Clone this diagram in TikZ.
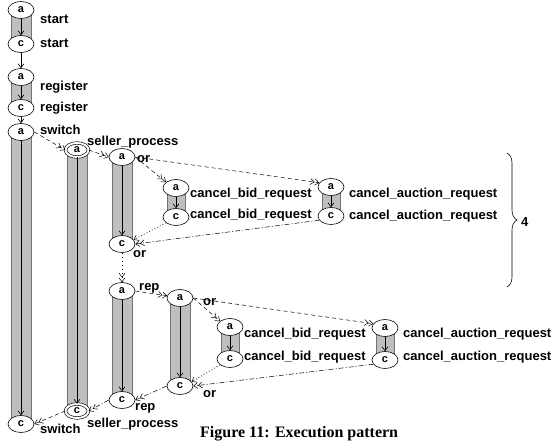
\documentclass[tikz,border=0pt]{standalone}
\usepackage{fontspec}
\newfontfamily\lblfont{Liberation Sans}
\newfontfamily\capfont{Liberation Serif}
\usetikzlibrary{calc,arrows.meta,shapes.geometric,decorations.pathreplacing,backgrounds}
\tikzset{
	>={Straight Barb[length=4pt,width=6pt]},
	act/.style={draw, ellipse, fill=white, line width=0.6, minimum width=26, minimum height=17, inner sep=0, font=\lblfont\bfseries\fontsize{11}{11}\selectfont},
	dbl/.style={act, double, double distance=2, minimum width=23, minimum height=14},
	lbl/.style={anchor=base west, inner sep=0, font=\lblfont\bfseries\fontsize{13}{13}\selectfont},
	bar/.style={fill=black!25, draw=black!55, line width=0.5},
	seqarr/.style={->, line width=0.6},
	fwdarr/.style={->>, line width=0.5, dash pattern=on 4pt off 3pt},
	backarr/.style={->>, line width=0.5, dash pattern=on 5pt off 2pt on 1pt off 2pt},
	dotarr/.style={->, line width=0.5, dash pattern=on 1pt off 2pt}
}
\def\actbar(#1)(#2)(#3){\draw[bar] ($(#2)+(-#1,0)$) rectangle ($(#3)+(#1,0)$);}

\begin{document}
\begin{tikzpicture}[x=1pt, y=-1pt]
	\useasboundingbox (0,0) rectangle (556,441);
	\clip (0,0) rectangle (556,441);
	%%%%% START %%%%%
	\node[act] (aS) at (21,10) {a};
	\node[act] (cS) at (21,44) {c};
	\node[act] (aR) at (21,77) {a};
	\node[act] (cR) at (21,108) {c};
	\node[act] (aW) at (21,132) {a};
	\node[act] (cW) at (21,424) {c};
	
	\node[dbl] (aP) at (77,150) {a};
	\node[dbl] (cP) at (77,411) {c};
	
	\node[act] (aO) at (122,157) {a};
	\node[act] (cO) at (122,244) {c};
	\node[act] (aRp) at (122,291) {a};
	\node[act] (cRp) at (122,400) {c};
	
	\node[act] (aO2) at (180,298) {a};
	\node[act] (cO2) at (180,386) {c};
	
	\node[act] (aB) at (176,188) {a};
	\node[act] (cB) at (176,217) {c};
	\node[act] (aA) at (331,187) {a};
	\node[act] (cA) at (331,216) {c};
	
	\node[act] (aB2) at (230,327) {a};
	\node[act] (cB2) at (230,359) {c};
	\node[act] (aA2) at (385,328) {a};
	\node[act] (cA2) at (385,360) {c};
	
	%%%%% BARS %%%%%
	\begin{scope}[on background layer]
		\actbar(10)(aS)(cS)
		\actbar(10)(aR)(cR)
		\actbar(10)(aW)(cW)
		\actbar(10)(aP)(cP)
		\actbar(10)(aO)(cO)
		\actbar(10)(aRp)(cRp)
		\actbar(10)(aO2)(cO2)
		\actbar(9)(aB)(cB)
		\actbar(9)(aA)(cA)
		\actbar(9)(aB2)(cB2)
		\actbar(9)(aA2)(cA2)
	\end{scope}
	
	%%%%% LABELS %%%%%
	\node[lbl] (lS1) at (40,24) {start};
	\node[lbl] (lS2) at (40,48) {start};
	\node[lbl] (lR1) at (40,91) {register};
	\node[lbl] (lR2) at (40,112) {register};
	\node[lbl] (lW1) at (40,134) {switch};
	\node[lbl] (lW2) at (40,433) {switch};
	\node[lbl] (lP1) at (87,145) {seller\_process};
	\node[lbl] (lP2) at (87,427) {seller\_process};
	\node[lbl] (lO1) at (137,162) {or};
	\node[lbl] (lO2) at (133,257) {or};
	\node[lbl] (lRp1) at (139,290) {rep};
	\node[lbl] (lRp2) at (135,410) {rep};
	\node[lbl] (lO3) at (203,305) {or};
	\node[lbl] (lO4) at (203,397) {or};
	\node[lbl] (lB1) at (190,197) {cancel\_bid\_request};
	\node[lbl] (lB2) at (190,218) {cancel\_bid\_request};
	\node[lbl] (lA1) at (349,197) {cancel\_auction\_request};
	\node[lbl] (lA2) at (349,219) {cancel\_auction\_request};
	\node[lbl] (lB3) at (244,337) {cancel\_bid\_request};
	\node[lbl] (lB4) at (244,360) {cancel\_bid\_request};
	\node[lbl] (lA3) at (403,337) {cancel\_auction\_request};
	\node[lbl] (lA4) at (403,360) {cancel\_auction\_request};
	
	%%%%% SEQUENCE %%%%%
	\draw[seqarr] (aS) -- (cS);
	\draw[seqarr] (cS) -- (aR);
	\draw[seqarr] (aR) -- (cR);
	\draw[seqarr] (cR) -- (aW);
	\draw[seqarr] (aW) -- (cW);
	\draw[seqarr] (aP) -- (cP);
	\draw[seqarr] (aO) -- (cO);
	\draw[seqarr] (aRp) -- (cRp);
	\draw[seqarr] (aO2) -- (cO2);
	\draw[seqarr] (aB) -- (cB);
	\draw[seqarr] (aA) -- (cA);
	\draw[seqarr] (aB2) -- (cB2);
	\draw[seqarr] (aA2) -- (cA2);
	
	%%%%% CALLS %%%%%
	\draw[fwdarr] (aW.east) -- (aP.west);
	\draw[fwdarr] (aP.east) -- (aO.west);
	\draw[fwdarr] (aO.east) -- (aB.150);
	\draw[fwdarr] (aO.east) -- (aA.160);
	\draw[dotarr] (cB.210) -- (cO.20);
	\draw[backarr] (cA.200) -- (cO.east);
	\draw[->>, line width=0.5, dash pattern=on 1pt off 3pt] (cO) -- (aRp);
	\draw[fwdarr] (aRp.east) -- (aO2.170);
	\draw[fwdarr] (aO2.east) -- (aB2.150);
	\draw[fwdarr] (aO2.east) -- (aA2.160);
	\draw[dotarr] (cB2.210) -- (cO2.20);
	\draw[backarr] (cA2.200) -- (cO2.east);
	\draw[backarr] (cO2.west) -- (cRp.east);
	\draw[backarr] (cRp.west) -- (cP.east);
	\draw[fwdarr] (cP.west) -- (cW.east);
	
	%%%%% BRACE %%%%%
	\draw[line width=0.6, decorate, decoration={brace, amplitude=10}] (507,153) -- (507,287);
	\node[lbl] (four) at (521,226) {4};
	
	\node[anchor=base west, inner sep=0, font=\capfont\bfseries\fontsize{16}{16}\selectfont] (cap) at (200,437) {Figure 11: Execution pattern};
	%%%%% END %%%%%
\end{tikzpicture}
\end{document}
